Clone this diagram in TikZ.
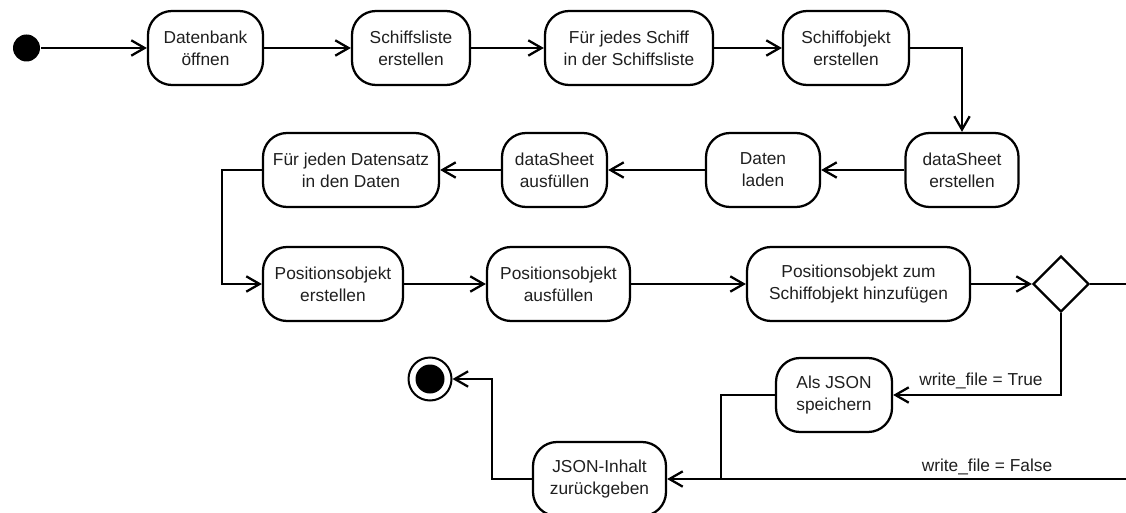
\documentclass[tikz,border=0pt]{standalone}
\usepackage{fontspec}
\setmainfont{Liberation Sans}
\usetikzlibrary{arrows.meta,shapes.geometric,calc}
\begin{document}
\begin{tikzpicture}[x=0.75pt,y=-0.75pt,
  line width=1.7pt,
  act/.style={draw, rounded corners=18pt, align=center, inner sep=0pt,
    minimum height=74*0.75pt, font=\fontsize{13pt}{16.5pt}\selectfont, text=black!88},
  wd/.style={minimum width=#1*0.75pt},
  flow/.style={-{Straight Barb[length=10pt,width=11.5pt,line width=1.7pt]}},
  lbl/.style={font=\fontsize{13pt}{16.5pt}\selectfont, text=black!88, inner sep=0pt},
]
\path[use as bounding box] (0,0) rectangle (1126,513);

% nodes
\node[circle, fill=black, inner sep=0pt, minimum size=27*0.75pt] (start) at (26.5,48) {};
\node[act, wd=115] (n1) at (205.5,48) {Datenbank\\öffnen};
\node[act, wd=118] (n2) at (411,48) {Schiffsliste\\erstellen};
\node[act, wd=168] (n3) at (629,48) {Für jedes Schiff\\in der Schiffsliste};
\node[act, wd=126] (n4) at (846,48) {Schiffobjekt\\erstellen};
\node[act, wd=113] (n5) at (962,170) {dataSheet\\erstellen};
\node[act, wd=114] (n6) at (763,170) {Daten\\laden};
\node[act, wd=105] (n7) at (554.5,170) {dataSheet\\ausfüllen};
\node[act, wd=176] (n8) at (351,170) {Für jeden Datensatz\\in den Daten};
\node[act, wd=140] (n9) at (333,284) {Positionsobjekt\\erstellen};
\node[act, wd=143] (n10) at (558.5,284) {Positionsobjekt\\ausfüllen};
\node[act, wd=223] (n11) at (858.5,284) {Positionsobjekt zum\\Schiffobjekt hinzufügen};
\node[diamond, draw, inner sep=0pt, minimum width=56*0.75pt, minimum height=56*0.75pt] (d) at (1061,284) {};
\node[act, wd=116] (n12) at (834,395) {Als JSON\\speichern};
\node[act, wd=133] (n13) at (599.5,479) {JSON-Inhalt\\zurückgeben};
\node[circle, draw, line width=1.5pt, inner sep=0pt, minimum size=43*0.75pt] (end) at (430,379) {};
\node[circle, fill=black, inner sep=0pt, minimum size=29*0.75pt] (endin) at (430,379) {};

\coordinate (rOut) at (1126,284);
\coordinate (rIn) at (1126,479);
\coordinate (j) at (721,479);

% connectors
\draw[flow] (start) -- (n1);
\draw[flow] (n1) -- (n2);
\draw[flow] (n2) -- (n3);
\draw[flow] (n3) -- (n4);
\draw[flow] (n4.east) -| (n5.north);
\draw[flow] (n5) -- (n6);
\draw[flow] (n6) -- (n7);
\draw[flow] (n7) -- (n8);
\draw[flow] (n8.west) -- ++(-40,0) |- (n9.west);
\draw[flow] (n9) -- (n10);
\draw[flow] (n10) -- (n11);
\draw[flow] (n11) -- (d);
\draw (d.east) -- (rOut);
\draw[flow] (d.south) |- (n12.east);
\node[lbl] (lt) at (981,381) {write\_file = True};
\draw (n12.west) -| (j);
\draw[flow] (rIn) -- (n13.east);
\node[lbl] (lf) at (987,467) {write\_file = False};
\draw[flow] (n13.west) -- ++(-40,0) |- (end.east);
\end{tikzpicture}
\end{document}
